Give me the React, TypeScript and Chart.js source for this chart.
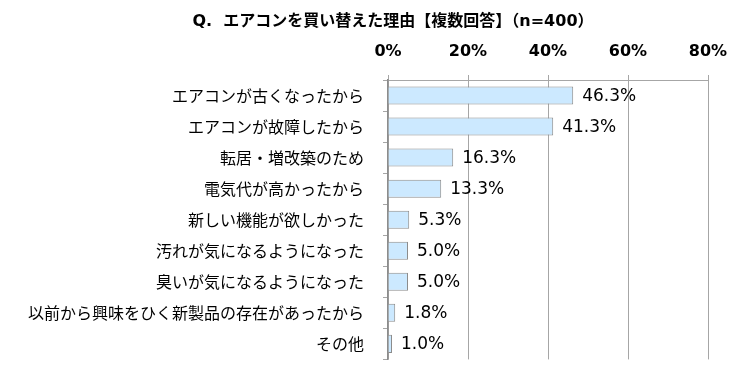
import React, { useEffect, useRef } from "react";
import { Chart, registerables } from "chart.js";

Chart.register(...registerables);

const titleText = "Q.  エアコンを買い替えた理由【複数回答】（n=400）";
const categories = [
  "エアコンが古くなったから",
  "エアコンが故障したから",
  "転居・増改築のため",
  "電気代が高かったから",
  "新しい機能が欲しかった",
  "汚れが気になるようになった",
  "臭いが気になるようになった",
  "以前から興味をひく新製品の存在があったから",
  "その他",
];
const values = [46.3, 41.3, 16.3, 13.3, 5.3, 5.0, 5.0, 1.8, 1.0];
const xMin = 0;
const xMax = 80;
const xStep = 20;

const JP = '"Noto Sans CJK JP", "Noto Sans", sans-serif';
const LATIN = '"DejaVu Sans", "Noto Sans CJK JP", sans-serif';

const titlePlugin = {
  id: "customTitle",
  afterDraw(chart: any) {
    const ctx = chart.ctx;
    ctx.save();
    ctx.font = `bold 16px ${LATIN}`;
    ctx.fillStyle = "#000";
    ctx.textAlign = "center";
    ctx.textBaseline = "middle";
    ctx.fillText(titleText, 393, 22);
    ctx.restore();
  },
};

const valueLabelPlugin = {
  id: "valueLabels",
  afterDatasetsDraw(chart: any) {
    const ctx = chart.ctx;
    const meta = chart.getDatasetMeta(0);
    ctx.save();
    ctx.font = `17px ${LATIN}`;
    ctx.fillStyle = "#000";
    ctx.textAlign = "left";
    ctx.textBaseline = "middle";
    meta.data.forEach((bar: any, i: number) => {
      ctx.fillText(`${values[i].toFixed(1)}%`, bar.x + 9, bar.y + 1);
    });
    ctx.restore();
  },
};

export default function App() {
  const ref = useRef<HTMLCanvasElement>(null);
  useEffect(() => {
    document.body.style.margin = "0";
    const canvas = ref.current!;
    const chart = new Chart(canvas, {
      type: "bar",
      data: {
        labels: categories,
        datasets: [
          {
            data: values,
            backgroundColor: "#CCE9FF",
            borderColor: "#8C8C8C",
            borderWidth: 1,
            barPercentage: 0.58,
            categoryPercentage: 1,
          },
        ],
      },
      options: {
        indexAxis: "y",
        responsive: false,
        animation: false,
        layout: { padding: { top: 0, left: 0, right: 37, bottom: 21 } },
        plugins: {
          legend: { display: false },
          tooltip: { enabled: false },
          title: { display: false },
        },
        scales: {
          x: {
            position: "top",
            min: xMin,
            max: xMax,
            ticks: {
              stepSize: xStep,
              callback: (v: any) => `${v}%`,
              font: { family: LATIN, size: 16, weight: "bold" },
              color: "#000",
              padding: 14,
            },
            grid: { color: "#A6A6A6", tickLength: 5, lineWidth: 1 },
            border: { display: true, color: "#A6A6A6", width: 1 },
            afterFit: (s: any) => {
              s.height = 80;
            },
          },
          y: {
            ticks: {
              font: { family: JP, size: 16 },
              color: "#000",
              padding: 19,
            },
            grid: {
              drawOnChartArea: false,
              tickLength: 5,
              color: "#A6A6A6",
              offset: true,
            },
            border: { display: true, color: "#8C8C8C", width: 1.5 },
            afterFit: (s: any) => {
              s.width = 388;
            },
          },
        },
      },
      plugins: [titlePlugin, valueLabelPlugin],
    } as any);
    return () => chart.destroy();
  }, []);
  return (
    <div style={{ position: "absolute", left: 0, top: 0, width: 745, height: 388, background: "#fff" }}>
      <canvas ref={ref} width={745} height={388} />
    </div>
  );
}
